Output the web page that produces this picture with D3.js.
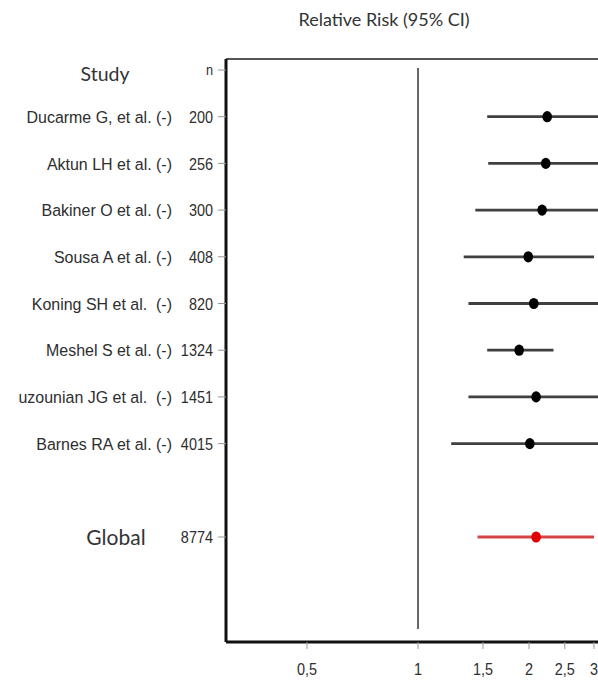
<!DOCTYPE html>
<html>
<head>
<meta charset="utf-8">
<script src="https://cdn.jsdelivr.net/npm/d3@7"></script>
<style>
  body { margin: 0; background: #fff; overflow: hidden; }
  svg { display: block; }
  .narrow { font-family: "Liberation Sans", Arial, sans-serif; fill: #2e2e2e; white-space: pre; }
  .soft { font-family: Lato, "Open Sans", sans-serif; fill: #333; }
</style>
</head>
<body>
<svg></svg>
<script>
const size = {w: 598, h: 684};
const svg = d3.select('svg').attr('width', size.w).attr('height', size.h);

// study data
const studies = ['Ducarme G, et al. (-)', 'Aktun LH et al. (-)', 'Bakiner O et al. (-)',
    'Sousa A et al. (-)', 'Koning SH et al.  (-)', 'Meshel S et al. (-)',
    'Ouzounian JG et al.  (-)', 'Barnes RA et al. (-)'];
const nValues = [200, 256, 300, 408, 820, 1324, 1451, 4015];
const rr = [2.24, 2.22, 2.17, 1.99, 2.06, 1.88, 2.09, 2.01];
const lower = [1.54, 1.55, 1.43, 1.33, 1.37, 1.54, 1.37, 1.23];
const upper = [3.25, 3.18, 3.29, 3.0, 3.1, 2.33, 3.19, 3.28];

const globalN = 8774;
const globalRR = 2.09, globalLower = 1.45, globalUpper = 3.0;

const xTicks = [0.5, 1, 1.5, 2, 2.5, 3];

// plot frame
const box = {l: 226, t: 59, b: 642, r: 720};

// log x scale, 1 sits at 418
const x = d3.scaleLog().domain([0.5, 3]).range([307, 594]);
// row positions: 0 = header "n", 1..8 studies, 9 blank, 10 global
const y = d3.scalePoint().domain(d3.range(11)).range([70, 537]);

// the source figure is cut off on the left, study names get clipped there
svg.append('clipPath').attr('id', 'labelclip')
    .append('rect').attr('x', 18).attr('y', 0).attr('width', 200).attr('height', size.h);

// reference line at RR = 1
svg.append('line')
    .attr('x1', x(1)).attr('x2', x(1))
    .attr('y1', 68).attr('y2', 629)
    .attr('stroke', '#666').attr('stroke-width', 2);

// confidence intervals
const rows = studies.map((s, i) => ({name: s, n: nValues[i], rr: rr[i], lo: lower[i], hi: upper[i], row: i + 1}));
const g = svg.append('g');
g.selectAll('line.ci').data(rows).enter().append('line')
    .attr('class', 'ci')
    .attr('x1', d => x(d.lo)).attr('x2', d => x(d.hi))
    .attr('y1', d => y(d.row)).attr('y2', d => y(d.row))
    .attr('stroke', '#404040').attr('stroke-width', 2.8);
g.selectAll('ellipse').data(rows).enter().append('ellipse')
    .attr('cx', d => x(d.rr)).attr('cy', d => y(d.row))
    .attr('rx', 4.8).attr('ry', 5.6)
    .attr('fill', '#000');

// global estimate in red
svg.append('line')
    .attr('x1', x(globalLower)).attr('x2', x(globalUpper))
    .attr('y1', y(10)).attr('y2', y(10))
    .attr('stroke', '#d64545').attr('stroke-width', 2.8);
svg.append('ellipse')
    .attr('cx', x(globalRR)).attr('cy', y(10))
    .attr('rx', 4.8).attr('ry', 5.6)
    .attr('fill', '#e00000');

// frame: left & bottom heavy, top gray
svg.append('line').attr('x1', box.l).attr('x2', box.r).attr('y1', box.t).attr('y2', box.t)
    .attr('stroke', '#555').attr('stroke-width', 2);
svg.append('line').attr('x1', box.l).attr('x2', box.l).attr('y1', box.t).attr('y2', box.b)
    .attr('stroke', '#111').attr('stroke-width', 3);
svg.append('line').attr('x1', box.l).attr('x2', box.r).attr('y1', box.b).attr('y2', box.b)
    .attr('stroke', '#111').attr('stroke-width', 3);

// y ticks + n labels
const yRows = [0].concat(rows.map(d => d.row)).concat([10]);
const nLabels = ['n'].concat(nValues.map(String)).concat([String(globalN)]);
svg.selectAll('line.ytick').data(yRows).enter().append('line')
    .attr('x1', box.l - 8).attr('x2', box.l)
    .attr('y1', d => y(d)).attr('y2', d => y(d))
    .attr('stroke', '#999').attr('stroke-width', 1);
svg.selectAll('text.nlab').data(yRows).enter().append('text')
    .attr('class', 'narrow')
    .attr('transform', d => `translate(213,${y(d)}) scale(0.85,1)`)
    .attr('dy', '0.36em')
    .attr('text-anchor', 'end')
    .style('font-size', (d, i) => i === 0 ? '15px' : '17px')
    .text((d, i) => nLabels[i]);

// study names
svg.append('g').attr('clip-path', 'url(#labelclip)')
    .selectAll('text.study').data(rows).enter().append('text')
    .attr('class', 'narrow')
    .attr('transform', d => `translate(172,${y(d.row)}) scale(0.94,1)`)
    .attr('dy', '0.36em')
    .attr('text-anchor', 'end')
    .style('font-size', '17px')
    .text(d => d.name);

// headers
svg.append('text').attr('class', 'soft')
    .attr('x', 105).attr('y', 81)
    .attr('text-anchor', 'middle').style('font-size', '19.5px')
    .text('Study');
svg.append('text').attr('class', 'soft')
    .attr('x', 116).attr('y', 545)
    .attr('text-anchor', 'middle').style('font-size', '21px')
    .text('Global');
svg.append('text').attr('class', 'soft')
    .attr('x', 384).attr('y', 26)
    .attr('text-anchor', 'middle').style('font-size', '18px')
    .text('Relative Risk (95% CI)');

// x axis ticks
svg.selectAll('line.xtick').data(xTicks).enter().append('line')
    .attr('x1', d => x(d)).attr('x2', d => x(d))
    .attr('y1', box.b).attr('y2', box.b + 7)
    .attr('stroke', '#999').attr('stroke-width', 1);
svg.selectAll('text.xlab').data(xTicks).enter().append('text')
    .attr('class', 'narrow')
    .attr('transform', d => `translate(${x(d)},669) scale(0.85,1)`)
    .attr('dy', '0.36em')
    .attr('text-anchor', 'middle')
    .style('font-size', '17px')
    .text(d => String(d).replace('.', ','));
</script>
</body>
</html>
